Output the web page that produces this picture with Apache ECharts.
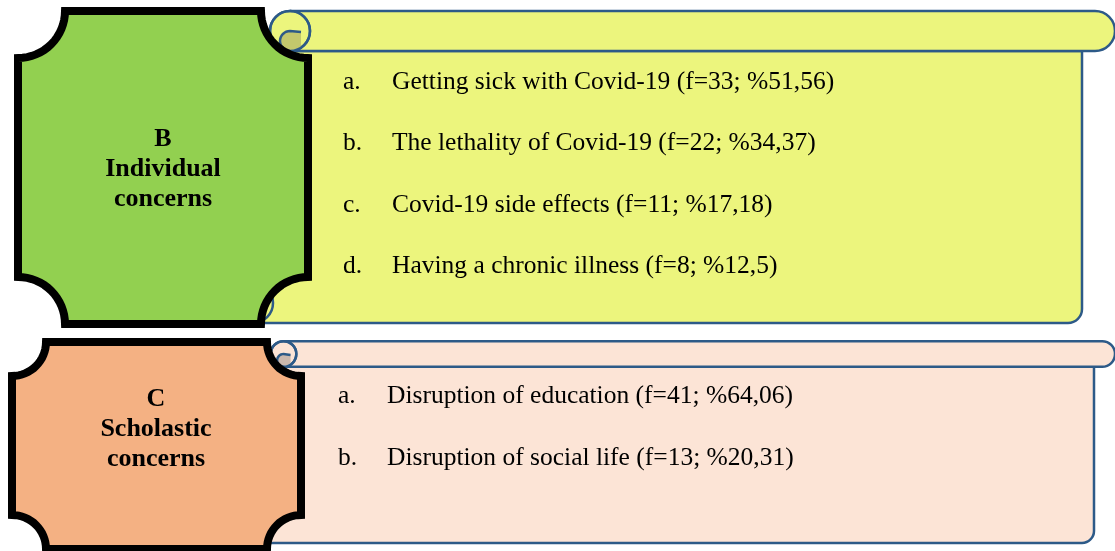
<!DOCTYPE html>
<html>
<head>
<meta charset="utf-8">
<script src="https://cdn.jsdelivr.net/npm/echarts@6/dist/echarts.min.js"></script>
<style>
  html, body { margin: 0; padding: 0; background: #fff; }
  #main { width: 1115px; height: 551px; }
</style>
</head>
<body>
<div id="main"></div>
<script>
// group headings
const groupLetters = ['B', 'C'];
const groupNames = ['Individual\nconcerns', 'Scholastic\nconcerns'];

// B: individual concerns
const itemsB = [
  'Getting sick with Covid-19',
  'The lethality of Covid-19',
  'Covid-19 side effects',
  'Having a chronic illness',
];
const freqB = [33, 22, 11, 8];
const pctB = ['51,56', '34,37', '17,18', '12,5'];

// C: scholastic concerns
const itemsC = ['Disruption of education', 'Disruption of social life'];
const freqC = [41, 13];
const pctC = ['64,06', '20,31'];

const itemLetters = ['a', 'b', 'c', 'd'];

const BLUE = '#2d5a88';
const FONT = '"Liberation Serif", "Times New Roman", serif';

// rectangle with concave (inward) rounded corners
function concaveBox(x0, y0, x1, y1, r) {
  const pts = [];
  const arc = (cx, cy, a0, a1) => {
    const n = 16;
    for (let i = 0; i <= n; i++) {
      const a = a0 + (a1 - a0) * i / n;
      pts.push([cx + r * Math.cos(a), cy + r * Math.sin(a)]);
    }
  };
  arc(x1, y0, Math.PI, Math.PI / 2);
  arc(x1, y1, -Math.PI / 2, -Math.PI);
  arc(x0, y1, 0, -Math.PI / 2);
  arc(x0, y0, Math.PI / 2, 0);
  return pts;
}

// the dark curl inside the scroll roll
function curl(cx, cy, r, xr) {
  const rs = r / 2;
  const pts = [[xr, cy + 1]];
  for (let i = 0; i <= 16; i++) {
    const a = -Math.PI / 2 - Math.PI * i / 16;
    pts.push([cx + rs * Math.cos(a), cy + rs + rs * Math.sin(a)]);
  }
  for (let i = 0; i <= 8; i++) {
    const a = Math.PI / 2 - (Math.PI / 2 - Math.acos((xr - cx) / r)) * i / 8;
    pts.push([cx + r * Math.cos(a), cy + r * Math.sin(a)]);
  }
  return pts;
}

function scroll(p) {
  const els = [];
  // body
  els.push({
    type: 'rect', z: 1,
    shape: { x: p.bodyX, y: p.cy + p.r, width: p.bodyRight - p.bodyX, height: p.bottom - p.cy - p.r, r: [0, 0, p.corner, 0] },
    style: { fill: p.fill, stroke: BLUE, lineWidth: 2.5 },
  });
  if (p.roll) {
    els.push({
      type: 'circle', z: 2,
      shape: { cx: p.bodyX, cy: p.bottom - p.r, r: p.r },
      style: { fill: p.fill, stroke: BLUE, lineWidth: 2.5 },
    });
  }
  // top bar
  els.push({
    type: 'rect', z: 3,
    shape: { x: p.cx, y: p.cy - p.r, width: 1115 - p.cx, height: 2 * p.r, r: [0, p.r, p.r, 0] },
    style: { fill: p.fill, stroke: BLUE, lineWidth: 2.5 },
  });
  els.push({
    type: 'circle', z: 4,
    shape: { cx: p.cx, cy: p.cy, r: p.r },
    style: { fill: p.fill, stroke: BLUE, lineWidth: 2.5 },
  });
  const c = curl(p.cx, p.cy, p.r, p.cx + p.r * 0.55);
  els.push({
    type: 'polygon', z: 5,
    shape: { points: c },
    style: { fill: p.curlFill, stroke: null },
  });
  els.push({
    type: 'polyline', z: 6,
    shape: { points: c.slice(0, 18) },
    style: { fill: null, stroke: BLUE, lineWidth: 2.5 },
  });
  els.push({
    type: 'circle', z: 6,
    shape: { cx: p.cx, cy: p.cy, r: p.r },
    style: { fill: null, stroke: BLUE, lineWidth: 2.5 },
  });
  return els;
}

function itemTexts(items, freq, pct, xl, xt, y0, step) {
  const els = [];
  items.forEach((label, i) => {
    const y = y0 + i * step;
    els.push({
      type: 'text', z: 20, x: xl, y: y,
      style: { text: itemLetters[i] + '.', font: '25.5px ' + FONT, fill: '#000', align: 'left', verticalAlign: 'middle' },
    });
    els.push({
      type: 'text', z: 20, x: xt, y: y,
      style: { text: label + ' (f=' + freq[i] + '; %' + pct[i] + ')', font: '25.5px ' + FONT, fill: '#000', align: 'left', verticalAlign: 'middle' },
    });
  });
  return els;
}

function headBox(pts, fill, cx, cy, idx) {
  return [
    {
      type: 'polygon', z: 10,
      shape: { points: pts },
      style: { fill: fill, stroke: '#000', lineWidth: 8, lineJoin: 'miter' },
    },
    {
      type: 'text', z: 20, x: cx, y: cy,
      style: {
        text: groupLetters[idx] + '\n' + groupNames[idx],
        font: 'bold 26px ' + FONT, lineHeight: 30, fill: '#000',
        align: 'center', verticalAlign: 'middle',
      },
    },
  ];
}

const elements = [].concat(
  scroll({ cx: 290, cy: 31, r: 20, bodyX: 253, bodyRight: 1082, bottom: 323, corner: 14, fill: '#ecf57d', curlFill: '#c3c86c', roll: true }),
  scroll({ cx: 283.5, cy: 354, r: 12.8, bodyX: 260, bodyRight: 1094, bottom: 543, corner: 12, fill: '#fce4d6', curlFill: '#cbb8ad', roll: false }),
  headBox(concaveBox(18, 11, 308, 324, 47), '#92d050', 163, 169, 0),
  headBox(concaveBox(12, 342, 301, 549, 34), '#f4b183', 156, 429.5, 1),
  itemTexts(itemsB, freqB, pctB, 343, 392, 82, 61.5),
  itemTexts(itemsC, freqC, pctC, 338, 387, 396.5, 62)
);

const chart = echarts.init(document.getElementById('main'), null, { renderer: 'canvas' });
chart.setOption({
  backgroundColor: '#fff',
  animation: false,
  graphic: { elements: elements },
});
</script>
</body>
</html>
